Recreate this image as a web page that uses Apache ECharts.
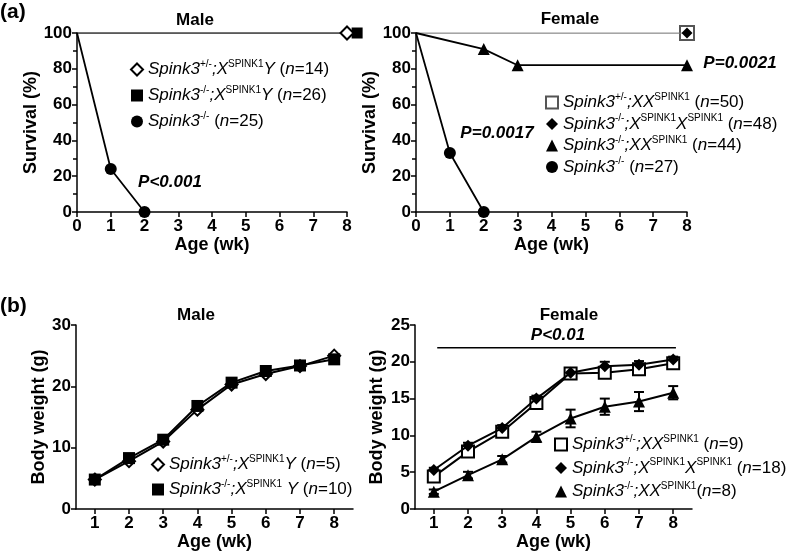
<!DOCTYPE html>
<html><head><meta charset="utf-8">
<script src="https://cdn.jsdelivr.net/npm/echarts@6/dist/echarts.min.js"></script>
<style>html,body{margin:0;padding:0;background:#fff}#c{width:787px;height:553px}</style>
</head><body><div id="c"></div>
<script>
// ---------- data ----------
const survMaleHetWeeks = [0, 8];
const survMaleHet = [100, 100];
const survMaleKOWeeks = [0, 8.3];
const survMaleKO = [100, 100];
const survMaleNullWeeks = [0, 1, 2];
const survMaleNull = [100, 24, 0];

const survFemHetWeeks = [0, 8];
const survFemHet = [100, 100];
const survFemKOXXWeeks = [0, 8];
const survFemKOXX = [100, 100];
const survFemKOXWeeks = [0, 2, 3, 8];
const survFemKOX = [100, 91, 82, 82];
const survFemNullWeeks = [0, 1, 2];
const survFemNull = [100, 33, 0];

const weightWeeks = [1, 2, 3, 4, 5, 6, 7, 8];
const wMaleHet = [4.8, 7.8, 11.0, 16.2, 20.3, 22.0, 23.3, 25.0];
const wMaleKO = [4.8, 8.3, 11.3, 16.8, 20.6, 22.5, 23.4, 24.4];
const wFemHet = [4.4, 7.8, 10.5, 14.4, 18.4, 18.5, 19.0, 19.8];
const wFemHetErr = [0.5, 0.5, 0.4, 0.5, 0.4, 0.6, 0.5, 0.4];
const wFemKOXX = [5.3, 8.6, 11.0, 15.0, 18.5, 19.4, 19.6, 20.3];
const wFemKOXXErr = [0.3, 0.4, 0.4, 0.4, 0.4, 0.6, 0.5, 0.4];
const wFemKOX = [2.35, 4.6, 6.75, 9.8, 12.3, 13.9, 14.6, 15.8];
const wFemKOXErr = [0.3, 0.45, 0.45, 0.7, 1.2, 1.1, 1.3, 0.9];
const sigSpanWeeks = [1.1, 8.08];
const sigLevel = [21.9, 21.9];

const weightTickLabels = ['1', '2', '3', '4', '5', '6', '7', '8'];

// ---------- helpers ----------
const FONT = "'Liberation Sans', Arial, sans-serif";
const zip = (xs, ys) => xs.map((x, i) => [x, ys[i]]);
const firstNone = (sym) => (v, p) => (p.dataIndex === 0 ? 'none' : sym);

const LEG = {
  mHet: '{i|Spink3}{s|+/-}{i|;X}{s|SPINK1}{i|Y }{r|(}{i|n}{r|=14)}',
  mKO: '{i|Spink3}{s|-/-}{i|;X}{s|SPINK1}{i|Y }{r|(}{i|n}{r|=26)}',
  mNull: '{i|Spink3}{s|-/-}{r| (}{i|n}{r|=25)}',
  fHet: '{i|Spink3}{s|+/-}{i|;XX}{s|SPINK1}{r| (}{i|n}{r|=50)}',
  fKOXX: '{i|Spink3}{s|-/-}{i|;X}{s|SPINK1}{i|X}{s|SPINK1}{r| (}{i|n}{r|=48)}',
  fKOX: '{i|Spink3}{s|-/-}{i|;XX}{s|SPINK1}{r| (}{i|n}{r|=44)}',
  fNull: '{i|Spink3}{s|-/-}{r| (}{i|n}{r|=27)}',
  wmHet: '{i|Spink3}{s|+/-}{i|;X}{s|SPINK1}{i|Y }{r|(}{i|n}{r|=5)}',
  wmKO: '{i|Spink3}{s|-/-}{i|;X}{s|SPINK1}{i| Y }{r|(}{i|n}{r|=10)}',
  wfHet: '{i|Spink3}{s|+/-}{i|;XX}{s|SPINK1}{r| (}{i|n}{r|=9)}',
  wfKOXX: '{i|Spink3}{s|-/-}{i|;X}{s|SPINK1}{i|X}{s|SPINK1}{r| (}{i|n}{r|=18)}',
  wfKOX: '{i|Spink3}{s|-/-}{i|;XX}{s|SPINK1}{r|(}{i|n}{r|=8)}'
};
const richStyle = {
  i: { fontFamily: FONT, fontSize: 17, fontStyle: 'italic', color: '#000', lineHeight: 21 },
  r: { fontFamily: FONT, fontSize: 17, color: '#000', lineHeight: 21 },
  s: { fontFamily: FONT, fontSize: 10, color: '#000', verticalAlign: 'top' }
};
function legend(left, top, gap, items) {
  return {
    orient: 'vertical', left: left, top: top, itemGap: gap, itemWidth: 12, itemHeight: 12,
    selectedMode: false, padding: 0,
    data: items.map(([name, icon]) => ({ name, icon })),
    formatter: (n) => LEG[n],
    textStyle: { fontFamily: FONT, fontSize: 17, color: '#000', rich: richStyle }
  };
}

const axLine = { show: true, onZero: false, lineStyle: { color: '#000', width: 1.5 } };
const axTick = { show: true, length: 5, lineStyle: { color: '#000', width: 1.5 } };
const lblStyle = { fontFamily: FONT, fontSize: 17, fontWeight: 'bold', color: '#000' };
const nameStyle = { fontFamily: FONT, fontSize: 18, fontWeight: 'bold', color: '#000' };

function survX(gi) {
  return { type: 'value', gridIndex: gi, min: 0, max: 8, interval: 1, axisLine: axLine, axisTick: axTick,
    axisLabel: Object.assign({ margin: 6 }, lblStyle), splitLine: { show: false },
    name: 'Age (wk)', nameLocation: 'middle', nameGap: 24, nameTextStyle: nameStyle };
}
function survY(gi) {
  return { type: 'value', gridIndex: gi, min: 0, max: 100, interval: 20, axisLine: axLine, axisTick: axTick,
    minorTick: { show: true, splitNumber: 2, length: 4, lineStyle: { color: '#000', width: 1.5 } },
    axisLabel: Object.assign({ margin: 5 }, lblStyle), splitLine: { show: false },
    name: 'Survival (%)', nameLocation: 'middle', nameGap: 28, nameTextStyle: nameStyle };
}
function wX(gi) {
  return { type: 'value', gridIndex: gi, min: 0.45, max: 8.55, axisLine: axLine,
    axisTick: Object.assign({ customValues: weightTickLabels.map(Number) }, axTick),
    axisLabel: Object.assign({ margin: 6, customValues: weightTickLabels.map(Number) }, lblStyle),
    splitLine: { show: false },
    name: 'Age (wk)', nameLocation: 'middle', nameGap: 24, nameTextStyle: nameStyle };
}
function wY(gi, max, interval, gap) {
  return { type: 'value', gridIndex: gi, min: 0, max: max, interval: interval, axisLine: axLine, axisTick: axTick,
    axisLabel: Object.assign({ margin: 5 }, lblStyle), splitLine: { show: false },
    name: 'Body weight (g)', nameLocation: 'middle', nameGap: gap, nameTextStyle: nameStyle };
}
function line(name, xi, data, symbol, size, extra) {
  return Object.assign({
    type: 'line', name: name, xAxisIndex: xi, yAxisIndex: xi, data: data,
    symbol: symbol, symbolSize: size, showAllSymbol: true, animation: false,
    itemStyle: { color: '#000', borderWidth: 1.5 },
    lineStyle: { color: '#000', width: 1.8 }, emphasis: { disabled: true }
  }, extra || {});
}
function errRender(params, api) {
  const x = api.value(0), lo = api.value(1), hi = api.value(2);
  const p1 = api.coord([x, lo]), p2 = api.coord([x, hi]);
  const hw = 5, st = { stroke: '#000', lineWidth: 2 };
  return { type: 'group', children: [
    { type: 'line', shape: { x1: p1[0], y1: p1[1], x2: p2[0], y2: p2[1] }, style: st },
    { type: 'line', shape: { x1: p1[0] - hw, y1: p1[1], x2: p1[0] + hw, y2: p1[1] }, style: st },
    { type: 'line', shape: { x1: p2[0] - hw, y1: p2[1], x2: p2[0] + hw, y2: p2[1] }, style: st }
  ] };
}
const errData = [];
[[wFemHet, wFemHetErr], [wFemKOXX, wFemKOXXErr], [wFemKOX, wFemKOXErr]].forEach(([m, e]) => {
  weightWeeks.forEach((w, i) => errData.push([w, m[i] - e[i], m[i] + e[i]]));
});

function txt(text, x, y, size, style, align) {
  return { type: 'text', x: x, y: y, silent: true,
    style: { text: text, fill: '#000', align: align || 'center', verticalAlign: 'middle',
      font: (style || '') + ' bold ' + size + 'px ' + FONT } };
}

const option = {
  backgroundColor: '#fff',
  animation: false,
  grid: [
    { left: 77, top: 33, width: 270, height: 179 },
    { left: 416, top: 33, width: 271, height: 179 },
    { left: 76, top: 325, width: 277, height: 184 },
    { left: 415, top: 325, width: 277, height: 184 }
  ],
  xAxis: [survX(0), survX(1), wX(2), wX(3)],
  yAxis: [survY(0), survY(1), wY(2, 30, 10, 27), wY(3, 25, 5, 29)],
  legend: [
    legend(130, 59, 7, [['mHet', 'emptyDiamond'], ['mKO', 'rect'], ['mNull', 'circle']]),
    legend(545, 92, 2.5, [['fHet', 'emptyRect'], ['fKOXX', 'diamond'], ['fKOX', 'triangle'], ['fNull', 'circle']]),
    legend(151, 454, 6, [['wmHet', 'emptyDiamond'], ['wmKO', 'rect']]),
    legend(554, 434, 4.5, [['wfHet', 'emptyRect'], ['wfKOXX', 'diamond'], ['wfKOX', 'triangle']])
  ],
  series: [
    // (a) male survival
    line('mHet', 0, zip(survMaleHetWeeks, survMaleHet), firstNone('emptyDiamond'), 13, { lineStyle: { color: '#222', width: 1 }, z: 3 }),
    line('mKO', 0, zip(survMaleKOWeeks, survMaleKO), firstNone('rect'), 11, { lineStyle: { color: '#222', width: 1 }, clip: false, z: 2 }),
    line('mNull', 0, zip(survMaleNullWeeks, survMaleNull), firstNone('circle'), 12, { z: 4 }),
    // (a) female survival
    line('fHet', 1, zip(survFemHetWeeks, survFemHet), firstNone('emptyRect'), 14, { itemStyle: { color: '#555', borderWidth: 1.5 }, lineStyle: { color: '#888', width: 1 }, z: 2 }),
    line('fKOXX', 1, zip(survFemKOXXWeeks, survFemKOXX), firstNone('diamond'), 11, { lineStyle: { color: '#888', width: 1 }, z: 3 }),
    line('fKOX', 1, zip(survFemKOXWeeks, survFemKOX), firstNone('triangle'), 12, { z: 4 }),
    line('fNull', 1, zip(survFemNullWeeks, survFemNull), firstNone('circle'), 12, { z: 4 }),
    // (b) male weight
    line('wmHet', 2, zip(weightWeeks, wMaleHet), 'emptyDiamond', 12, { lineStyle: { color: '#000', width: 2 }, z: 2 }),
    line('wmKO', 2, zip(weightWeeks, wMaleKO), 'rect', 12, { lineStyle: { color: '#000', width: 2 }, z: 3 }),
    // (b) female weight
    { type: 'custom', xAxisIndex: 3, yAxisIndex: 3, data: errData, renderItem: errRender,
      encode: { x: 0, y: [1, 2] }, z: 1, silent: true, animation: false },
    line('wfHet', 3, zip(weightWeeks, wFemHet), 'emptyRect', 12, { lineStyle: { color: '#000', width: 2 }, z: 3 }),
    line('wfKOXX', 3, zip(weightWeeks, wFemKOXX), 'diamond', 12, { lineStyle: { color: '#000', width: 2 }, z: 4 }),
    line('wfKOX', 3, zip(weightWeeks, wFemKOX), 'triangle', 12, { lineStyle: { color: '#000', width: 2 }, z: 4 }),
    line('sig', 3, zip(sigSpanWeeks, sigLevel), 'none', 0, { lineStyle: { color: '#000', width: 1.5 } })
  ],
  graphic: [
    txt('(a)', 0, 12, 21, '', 'left'),
    txt('(b)', 0, 306, 21, '', 'left'),
    txt('Male', 195, 20, 17),
    txt('Female', 570, 19, 17),
    txt('Male', 196, 315, 17),
    txt('Female', 569, 315, 17),
    txt('P<0.001', 170, 182, 17, 'italic'),
    txt('P=0.0017', 497, 133, 17, 'italic'),
    txt('P=0.0021', 740, 63, 17, 'italic'),
    txt('P<0.01', 558, 335, 17, 'italic')
  ]
};
const chart = echarts.init(document.getElementById('c'), null, { renderer: 'canvas' });
chart.setOption(option);
</script>
</body></html>
